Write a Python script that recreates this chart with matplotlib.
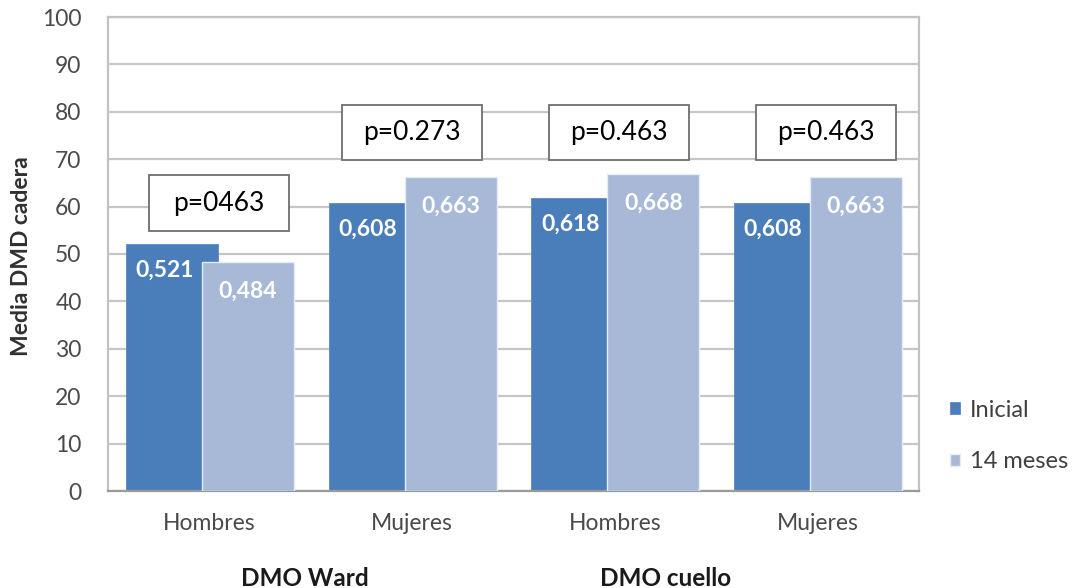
import numpy as np
import matplotlib
matplotlib.use("Agg")
import matplotlib.pyplot as plt
from matplotlib.patches import Rectangle

plt.rcParams['font.family'] = ['Lato', 'DejaVu Sans']

# Data
categories = ["Hombres", "Mujeres", "Hombres", "Mujeres"]
groups = ["DMO Ward", "DMO cuello"]
inicial = [0.521, 0.608, 0.618, 0.608]
meses14 = [0.484, 0.663, 0.668, 0.663]
p_values = ["p=0463", "p=0.273", "p=0.463", "p=0.463"]
series_names = ["Inicial", "14 meses"]
y_ticks = list(range(0, 101, 10))

DARK = "#4a7ebb"
LIGHT = "#a8b9d7"
GRID = "#c6c6c6"
TXT = "#4a4a4a"

fig = plt.figure(figsize=(10.74, 5.88), dpi=100)
ax = fig.add_axes([108 / 1074, 97 / 588, 811 / 1074, 474 / 588])

x = np.arange(len(categories))
w = 0.453
vals_a = np.array(inicial) * 100
vals_b = np.array(meses14) * 100

b1 = ax.bar(x - 0.185, vals_a, width=w, color=DARK, edgecolor="#5b8ac4",
            linewidth=0.6, zorder=2, label=series_names[0])
b2 = ax.bar(x + 0.19, vals_b, width=w, color=LIGHT, edgecolor="#e4ecf7",
            linewidth=1.0, zorder=3, label=series_names[1])

# value labels inside the bar tops
for xi, v, raw in zip(x, vals_a, inicial):
    ax.annotate(f"{raw:.3f}".replace(".", ","), (xi - 0.22, v), xytext=(0, -19),
                textcoords="offset points", ha="center", va="center",
                color="white", fontsize=16.5, fontweight="bold", zorder=5)
for xi, v, raw in zip(x, vals_b, meses14):
    ax.annotate(f"{raw:.3f}".replace(".", ","), (xi + 0.19, v), xytext=(0, -21),
                textcoords="offset points", ha="center", va="center",
                color="white", fontsize=16.5, fontweight="bold", zorder=5)

# p-value boxes
box_spec = [(0.047, 54.8, 66.6), (1.0, 69.8, 81.4), (2.02, 69.8, 81.4), (3.04, 69.8, 81.4)]
bw = 0.69
for (cx, y0, y1), txt in zip(box_spec, p_values):
    ax.add_patch(Rectangle((cx - bw / 2, y0), bw, y1 - y0, facecolor="white",
                           edgecolor="#6e6e6e", linewidth=1.3, zorder=6))
    ax.text(cx, (y0 + y1) / 2, txt, ha="center", va="center", fontsize=19,
            color="black", zorder=7)

ax.set_xlim(-0.5, len(categories) - 0.5)
ax.set_ylim(0, 100)
ax.set_yticks(y_ticks)
ax.set_xticks(x)
ax.set_xticklabels(categories)
ax.tick_params(axis="y", length=0, pad=19, labelsize=16.5, labelcolor=TXT)
ax.tick_params(axis="x", length=0, pad=16, labelsize=16.5, labelcolor=TXT)

ax.yaxis.grid(True, color=GRID, linewidth=1.6, zorder=0)
ax.set_axisbelow(True)
for s in ["left", "right", "top"]:
    ax.spines[s].set_color("#c2c2c2")
    ax.spines[s].set_linewidth(1.6)
ax.spines["bottom"].set_color("#9a9a9a")
ax.spines["bottom"].set_linewidth(1.6)

# group names under the category labels
fig.text(305 / 1074, 1 - 578 / 588, groups[0], ha="center", va="center",
         fontsize=17.5, fontweight="bold", color="#1a1a1a")
fig.text(666 / 1074, 1 - 578 / 588, groups[1], ha="center", va="center",
         fontsize=17.5, fontweight="bold", color="#1a1a1a")

fig.text(22 / 1074, 1 - 256 / 588, "Media DMD cadera", rotation=90,
         ha="center", va="center", fontsize=16.5, fontweight="bold", color="#303030")

leg = fig.legend(handles=[b1, b2], labels=series_names, loc="upper left",
                 bbox_to_anchor=(938 / 1074, 1 - 388 / 588), frameon=False,
                 fontsize=17, handlelength=0.42, handleheight=0.42,
                 handletextpad=0.45, labelspacing=1.3, borderpad=0,
                 labelcolor="#404040")

fig.savefig("out.png", dpi=100)
